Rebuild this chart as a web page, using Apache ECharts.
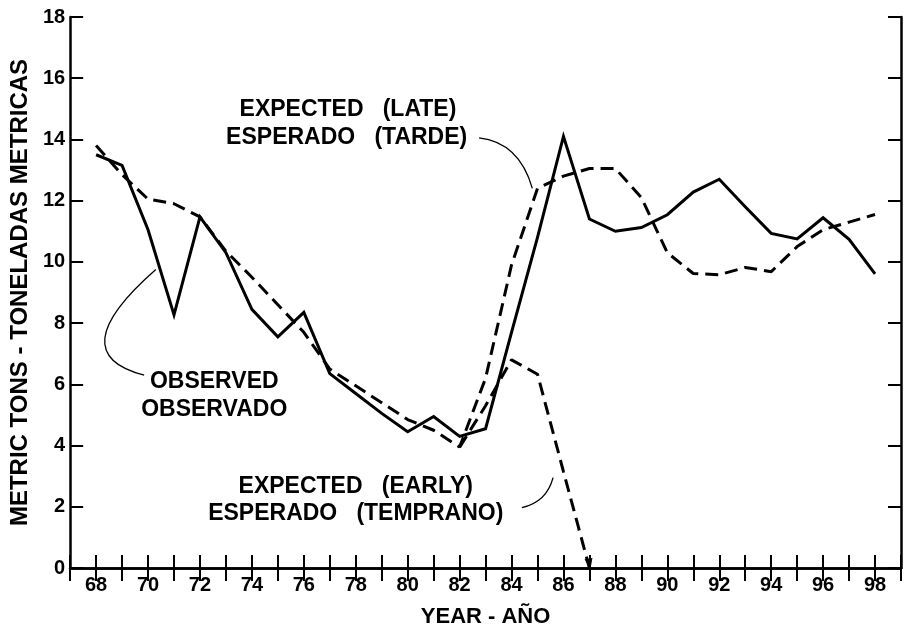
<!DOCTYPE html>
<html>
<head>
<meta charset="utf-8">
<script src="https://cdn.jsdelivr.net/npm/echarts@6/dist/echarts.min.js"></script>
<style>
html,body{margin:0;padding:0;background:#fff;overflow:hidden;}
#chart{width:904px;height:633px;}
</style>
</head>
<body>
<div id="chart"></div>
<script>
// ---- data ----
const years = [68,69,70,71,72,73,74,75,76,77,78,79,80,81,82,83,84,85,86,87,88,89,90,91,92,93,94,95,96,97,98];
const observed = [13.5,13.15,11.05,8.27,11.47,10.3,8.45,7.55,8.35,6.35,5.7,5.05,4.45,4.95,4.3,4.55,7.7,10.8,14.1,11.4,11.0,11.12,11.54,12.28,12.7,11.8,10.93,10.75,11.44,10.74,9.61];
const expectedLate = [13.8,12.85,12.05,11.9,11.47,10.35,9.5,8.6,7.7,6.5,5.95,5.4,4.85,4.5,3.95,6.2,9.9,12.4,12.8,13.05,13.05,12.1,10.3,9.62,9.58,9.82,9.68,10.5,11.05,11.3,11.55];
const earlyYears = [82,83,84,85,86,87];
const expectedEarly = [3.95,5.3,6.8,6.33,3.15,0];
const xTickLabels = ['68','70','72','74','76','78','80','82','84','86','88','90','92','94','96','98'];
const yTickLabels = ['0','2','4','6','8','10','12','14','16','18'];

const FONT = '"Liberation Sans", Arial, Helvetica, sans-serif';
const INK = '#000';

const chart = echarts.init(document.getElementById('chart'), null, {renderer:'canvas'});

const pairs = (xs, ys) => xs.map((x, i) => [x, ys[i]]);
const earlyData = pairs(earlyYears, expectedEarly).map((p, i, a) =>
  i === a.length - 1
    ? {value: p, symbol: 'triangle', symbolSize: [8, 11], symbolRotate: 190, symbolOffset: [0, -4], itemStyle: {color: INK}}
    : {value: p});

const axisLine = {show: true, lineStyle: {color: INK, width: 2.5}};
const tickStyle = {color: INK, width: 2};

const option = {
  animation: false,
  backgroundColor: '#fff',
  grid: {left: 66.5, top: 17, width: 840, height: 560, containLabel: false},
  xAxis: [
    {
      type: 'value', min: 67, max: 99, interval: 1, position: 'bottom',
      axisLine: axisLine,
      axisTick: {show: true, inside: true, length: 13, lineStyle: tickStyle},
      splitLine: {show: false},
      axisLabel: {
        show: true, margin: 7, color: INK, fontFamily: FONT, fontWeight: 'bold', fontSize: 20,
        formatter: v => xTickLabels.includes(String(v)) ? String(v) : ''
      },
      name: 'YEAR - AÑO', nameLocation: 'middle', nameGap: 38,
      nameTextStyle: {color: INK, fontFamily: FONT, fontWeight: 'bold', fontSize: 22}
    },
    {
      type: 'value', min: 67, max: 99, interval: 1, position: 'top',
      axisLine: axisLine,
      axisTick: {show: true, inside: true, length: 13, lineStyle: tickStyle},
      splitLine: {show: false},
      axisLabel: {show: false}
    }
  ],
  yAxis: [
    {
      type: 'value', min: 0, max: 18, interval: 2, position: 'left',
      axisLine: axisLine,
      axisTick: {show: true, inside: true, length: 13, lineStyle: tickStyle},
      splitLine: {show: false},
      axisLabel: {
        show: true, margin: 5, color: INK, fontFamily: FONT, fontWeight: 'bold', fontSize: 20,
        formatter: v => yTickLabels.includes(String(v)) ? String(v) : ''
      },
      name: 'METRIC TONS - TONELADAS METRICAS', nameLocation: 'middle', nameGap: 28,
      nameTextStyle: {color: INK, fontFamily: FONT, fontWeight: 'bold', fontSize: 24}
    },
    {
      type: 'value', min: 0, max: 18, interval: 2, position: 'right',
      axisLine: axisLine,
      axisTick: {show: true, inside: true, length: 13, lineStyle: tickStyle},
      splitLine: {show: false},
      axisLabel: {show: false}
    }
  ],
  series: [
    {
      name: 'Observed', type: 'line', xAxisIndex: 0, yAxisIndex: 0,
      data: pairs(years, observed), showSymbol: false, symbol: 'none',
      lineStyle: {color: INK, width: 3, type: 'solid', join: 'miter'}
    },
    {
      name: 'Expected (late)', type: 'line', xAxisIndex: 0, yAxisIndex: 0,
      data: pairs(years, expectedLate), showSymbol: false, symbol: 'none',
      lineStyle: {color: INK, width: 3, type: [13, 7]}
    },
    {
      name: 'Expected (early)', type: 'line', xAxisIndex: 0, yAxisIndex: 0,
      data: earlyData, showSymbol: true, symbol: 'none',
      lineStyle: {color: INK, width: 3, type: [13, 7]}
    }
  ],
  graphic: []
};

chart.setOption(option);

// annotations (labels and leader curves), anchored in data coordinates
const P = (x, y) => chart.convertToPixel({xAxisIndex: 0, yAxisIndex: 0}, [x, y]);
const labelStyle = {fill: INK, font: 'bold 23px ' + FONT, textAlign: 'center', textVerticalAlign: 'middle'};
function txt(x, y, s) {
  const p = P(x, y);
  return {type: 'text', x: p[0], y: p[1], style: Object.assign({text: s}, labelStyle), z: 10};
}
function curve(a, c, b) {
  const pa = P(a[0], a[1]), pc = P(c[0], c[1]), pb = P(b[0], b[1]);
  return {type: 'bezierCurve', shape: {x1: pa[0], y1: pa[1], x2: pb[0], y2: pb[1], cpx1: pc[0], cpy1: pc[1]},
          style: {stroke: INK, lineWidth: 1.3, fill: null}, z: 10};
}
chart.setOption({
  graphic: [
    txt(77.7, 14.98, 'EXPECTED   (LATE)'),
    txt(77.65, 14.05, 'ESPERADO   (TARDE)'),
    txt(72.55, 6.1, 'OBSERVED'),
    txt(72.55, 5.18, 'OBSERVADO'),
    txt(78.0, 2.67, 'EXPECTED   (EARLY)'),
    txt(78.0, 1.77, 'ESPERADO   (TEMPRANO)'),
    curve([82.75, 14.05], [84.3, 13.9], [84.8, 12.4]),
    curve([70.3, 9.75], [66.6, 7.0], [69.85, 6.3]),
    curve([84.4, 1.97], [85.35, 2.15], [85.6, 2.95])
  ]
});
</script>
</body>
</html>
